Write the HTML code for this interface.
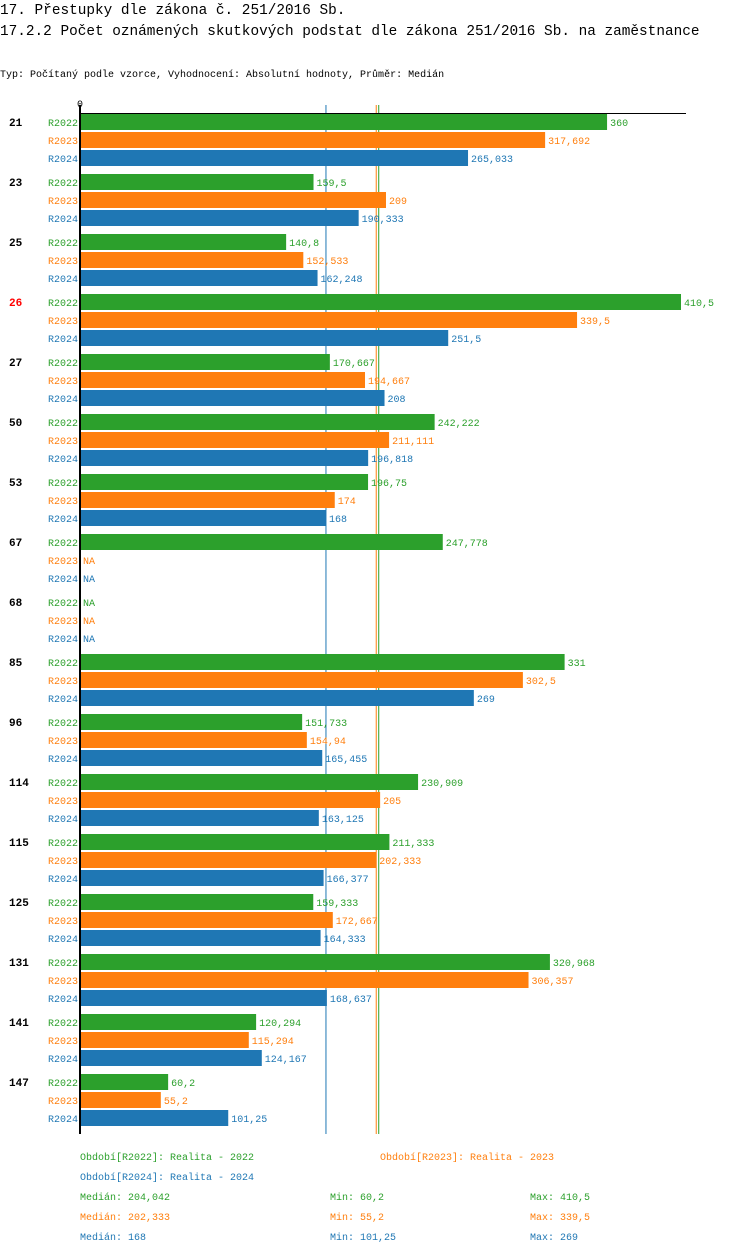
<!DOCTYPE html>
<html><head><meta charset="utf-8"><style>
body{margin:0;background:#fff;}
svg text{font-family:"Liberation Mono",monospace;}
</style></head><body>
<svg id="c" width="750" height="1254" xmlns="http://www.w3.org/2000/svg">
<text x="0" y="14" font-size="14.4" fill="#000">17. Přestupky dle zákona č. 251/2016 Sb.</text>
<text x="0" y="35" font-size="14.4" fill="#000">17.2.2 Počet oznámených skutkových podstat dle zákona 251/2016 Sb. na zaměstnance</text>
<text x="0" y="77" font-size="10" fill="#000">Typ: Počítaný podle vzorce, Vyhodnocení: Absolutní hodnoty, Průměr: Medián</text>
<g id="marks"></g>
</svg>
<script>
const categories=["21","23","25","26","27","50","53","67","68","85","96","114","115","125","131","141","147"];
const highlighted=["26"];
const seriesNames=["R2022","R2023","R2024"];
const r2022=[360,159.5,140.8,410.5,170.667,242.222,196.75,247.778,null,331,151.733,230.909,211.333,159.333,320.968,120.294,60.2];
const r2023=[317.692,209,152.533,339.5,194.667,211.111,174,null,null,302.5,154.94,205,202.333,172.667,306.357,115.294,55.2];
const r2024=[265.033,190.333,162.248,251.5,208,196.818,168,null,null,269,165.455,163.125,166.377,164.333,168.637,124.167,101.25];
const medians=[204.042,202.333,168];
const mins=[60.2,55.2,101.25];
const maxs=[410.5,339.5,269];
const colors=["#2ca02c","#ff7f0e","#1f77b4"];
const series=[r2022,r2023,r2024];
const NS="http://www.w3.org/2000/svg";
const g=document.getElementById("marks");
const x0=80, scale=601/410.5;
const xs=v=>x0+v*scale;
const ys=(i,s)=>114+i*60+s*18;
function fmt(v){return String(v).replace(".",",");}
function el(t,a,txt){const e=document.createElementNS(NS,t);for(const k in a)e.setAttribute(k,a[k]);if(txt!=null)e.textContent=txt;g.appendChild(e);return e;}
const yEnd=ys(categories.length-1,2)+24;
const medOrder=[2,1,0];
medOrder.forEach(s=>{
 const l=el("line",{x1:xs(medians[s]),x2:xs(medians[s]),y1:105,y2:yEnd,stroke:colors[s],"stroke-width":1});
 
 
});
categories.forEach((c,i)=>{
 const t=el("text",{x:9,y:ys(i,0)+12,"font-size":11,"font-weight":"bold",fill:highlighted.includes(c)?"#ff0000":"#000"},c);
 
 
 series.forEach((arr,s)=>{
  const y=ys(i,s);const v=arr[i];
  const lb=el("text",{x:78,y:y+12,"font-size":10,fill:colors[s],"text-anchor":"end"},seriesNames[s]);
  
  
  if(v!=null){
   const r=el("rect",{x:x0,y:y,width:xs(v)-x0,height:16,fill:colors[s]});
   
   
  }
  const vt=el("text",{x:(v!=null?xs(v):x0)+3,y:y+12,"font-size":10,fill:colors[s]},v!=null?fmt(v):"NA");
  
  
 });
});
const ax=el("line",{x1:x0,x2:686,y1:113.5,y2:113.5,stroke:"#000","stroke-width":1});


const ay=el("line",{x1:x0,x2:x0,y1:105,y2:yEnd,stroke:"#000","stroke-width":2});


const z=el("text",{x:x0,y:107,"font-size":10,fill:"#000","text-anchor":"middle"},"0");


const legPos=[[80,1160],[380,1160],[80,1180]];
const legNames=["Realita - 2022","Realita - 2023","Realita - 2024"];
seriesNames.forEach((n,s)=>{
 const t=el("text",{x:legPos[s][0],y:legPos[s][1],"font-size":10,fill:colors[s]},"Období["+n+"]: "+legNames[s]);
 
 
 const y=1200+s*20;
 const a=el("text",{x:80,y:y,"font-size":10,fill:colors[s]},"Medián: "+fmt(medians[s]));
 
 
 const b=el("text",{x:330,y:y,"font-size":10,fill:colors[s]},"Min: "+fmt(mins[s]));
 
 
 const d=el("text",{x:530,y:y,"font-size":10,fill:colors[s]},"Max: "+fmt(maxs[s]));
 
 
});
</script>
</body></html>
